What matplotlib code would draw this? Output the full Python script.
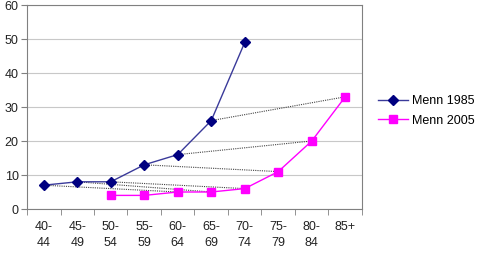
import matplotlib
matplotlib.use("Agg")
import matplotlib.pyplot as plt

plt.rcParams['font.family'] = ['Liberation Sans', 'DejaVu Sans']

categories = ["40-\n44", "45-\n49", "50-\n54", "55-\n59", "60-\n64", "65-\n69", "70-\n74", "75-\n79", "80-\n84", "85+"]
menn_1985 = [7, 8, 8, 13, 16, 26, 49, None, None, None]
menn_2005 = [None, None, 4, 4, 5, 5, 6, 11, 20, 33]
cohort_shift = 4  # 20 years = 4 age groups

fig = plt.figure(figsize=(4.78, 2.57), dpi=100)
ax = fig.add_axes([27/478, 1 - 209/257, (362-27)/478, (209-5)/257])

x = list(range(len(categories)))

# cohort connection lines
for i, v in enumerate(menn_1985):
    j = i + cohort_shift
    if v is not None and j < len(menn_2005) and menn_2005[j] is not None:
        ax.plot([i, j], [v, menn_2005[j]], color='#444444', linestyle=(0, (1, 1)), linewidth=0.8, zorder=2)

x85 = [i for i, v in enumerate(menn_1985) if v is not None]
y85 = [v for v in menn_1985 if v is not None]
x05 = [i for i, v in enumerate(menn_2005) if v is not None]
y05 = [v for v in menn_2005 if v is not None]

ax.plot(x85, y85, color='#3A3A9A', marker='D', markersize=5, markerfacecolor='#000080',
        markeredgecolor='#000080', linewidth=1, label='Menn 1985', zorder=3)
ax.plot(x05, y05, color='#FF00FF', marker='s', markersize=6, linewidth=1, label='Menn 2005', zorder=3)

ax.set_xlim(-0.5, len(categories) - 0.5)
ax.set_ylim(0, 60)
ax.set_yticks(range(0, 61, 10))
ax.set_xticks(x)
ax.set_xticklabels(categories, fontsize=9, color='#222222', linespacing=1.4)
ax.set_xticks([i - 0.5 for i in range(len(categories) + 1)], minor=True)
ax.tick_params(axis='x', which='major', length=0, pad=9)
ax.tick_params(axis='x', which='minor', length=4, color='#808080')
ax.tick_params(axis='y', labelsize=9, length=4, color='#808080', labelcolor='#222222', pad=2)
ax.grid(axis='y', color='#C8C8C8', linewidth=0.8)
ax.set_axisbelow(True)
for s in ax.spines.values():
    s.set_color('#808080')

ax.legend(loc='center left', bbox_to_anchor=((378-27)/335, 0.48), frameon=False, fontsize=9,
          borderaxespad=0, borderpad=0, handlelength=2.4, handletextpad=0.3, labelspacing=0.6)

fig.savefig('out.png', dpi=100)
